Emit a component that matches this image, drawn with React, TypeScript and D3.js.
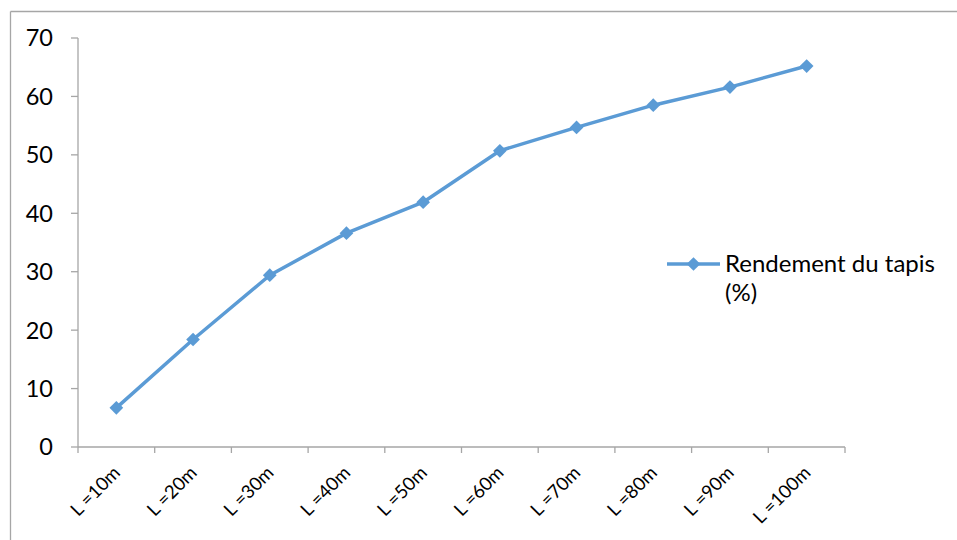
import React from "react";
import * as d3 from "d3";

const categories = ["L =10m", "L =20m", "L =30m", "L =40m", "L =50m", "L =60m", "L =70m", "L =80m", "L =90m", "L =100m"];
const rendement = [6.7, 18.4, 29.4, 36.6, 41.9, 50.7, 54.7, 58.5, 61.6, 65.2];
const yTicks = [0, 10, 20, 30, 40, 50, 60, 70];
const seriesName = ["Rendement du tapis", "(%)"];

const W = 957;
const H = 540;
const left = 78;
const right = 845;
const top = 38;
const bottom = 447;
const color = "#5B9BD5";
const axisColor = "#A6A6A6";
const font = "Lato, 'Open Sans', sans-serif";

export default function App() {
  const x = d3.scaleBand<string>().domain(categories).range([left, right]);
  const y = d3.scaleLinear().domain([0, 70]).range([bottom, top]);
  const pts: [number, number][] = rendement.map((v, i) => [x(categories[i])! + x.bandwidth() / 2, y(v)]);
  const line = d3.line()(pts) || "";
  const diamond = d3.symbol().type(d3.symbolDiamond2).size(120)() || "";
  const legY = 264;

  return (
    <svg width={W} height={H} style={{ position: "absolute", left: 0, top: 0, background: "#fff" }} fontFamily={font}>
      <rect x={0} y={0} width={W} height={H} fill="#fff" />
      {/* outer frame */}
      <line x1={10.5} y1={11.5} x2={W} y2={11.5} stroke={axisColor} strokeWidth={1.3} />
      <line x1={10.5} y1={11.5} x2={10.5} y2={H} stroke={axisColor} strokeWidth={1.3} />

      {/* y axis */}
      <line x1={left} y1={top} x2={left} y2={bottom} stroke={axisColor} strokeWidth={1.3} />
      {yTicks.map((t) => (
        <g key={t}>
          <line x1={left - 7} x2={left} y1={y(t)} y2={y(t)} stroke={axisColor} strokeWidth={1.3} />
          <text x={53} y={y(t)} dy="0.36em" textAnchor="end" fontSize={23.5} fill="#000">
            {t}
          </text>
        </g>
      ))}

      {/* x axis */}
      <line x1={left} y1={bottom} x2={right} y2={bottom} stroke={axisColor} strokeWidth={1.3} />
      {categories.map((c, i) => (
        <line key={"t" + i} x1={x(c)!} x2={x(c)!} y1={bottom} y2={bottom + 6} stroke={axisColor} strokeWidth={1.3} />
      ))}
      <line x1={right} x2={right} y1={bottom} y2={bottom + 6} stroke={axisColor} strokeWidth={1.3} />
      {categories.map((c) => {
        const cx = x(c)! + x.bandwidth() / 2 + 5;
        const cy = bottom + 27;
        return (
          <text key={c} x={cx} y={cy} textAnchor="end" fontSize={18.5} fill="#000" transform={`rotate(-45 ${cx} ${cy})`}>
            {c}
          </text>
        );
      })}

      {/* series */}
      <path d={line} fill="none" stroke={color} strokeWidth={3.5} strokeLinejoin="round" />
      {pts.map((p, i) => (
        <path key={i} d={diamond} transform={`translate(${p[0]},${p[1]})`} fill={color} />
      ))}

      {/* legend */}
      <line x1={667} x2={720} y1={legY} y2={legY} stroke={color} strokeWidth={3.5} />
      <path d={diamond} transform={`translate(693.5,${legY})`} fill={color} />
      <text x={725} y={271.5} fontSize={24} fill="#000">
        {seriesName[0]}
      </text>
      <text x={725} y={300.5} fontSize={24} fill="#000">
        {seriesName[1]}
      </text>
    </svg>
  );
}
